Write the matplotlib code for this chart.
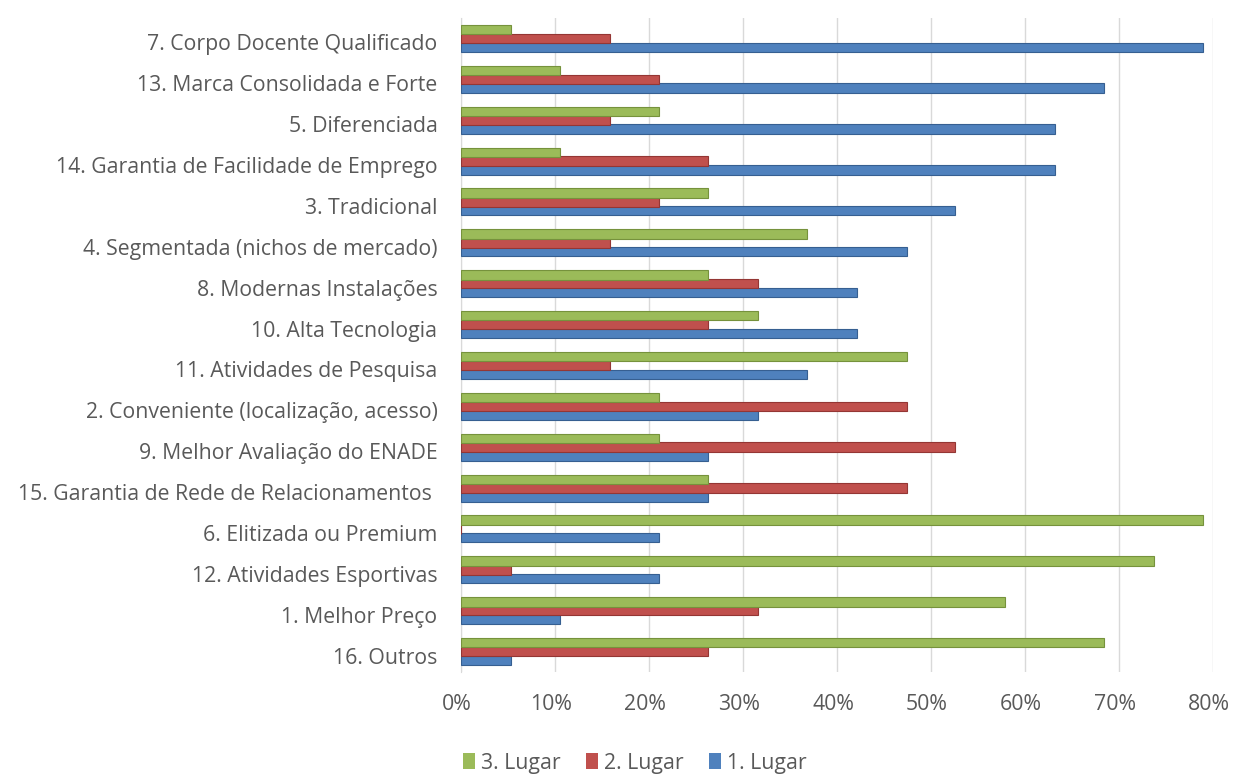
import matplotlib
matplotlib.use("Agg")
import matplotlib.pyplot as plt
from matplotlib.ticker import FuncFormatter
from matplotlib.transforms import ScaledTranslation
from matplotlib.patches import Patch

# Attributes (top to bottom) and share of respondents per ranking position (%)
categories = [
    "7. Corpo Docente Qualificado",
    "13. Marca Consolidada e Forte",
    "5. Diferenciada",
    "14. Garantia de Facilidade de Emprego",
    "3. Tradicional",
    "4. Segmentada (nichos de mercado)",
    "8. Modernas Instalações",
    "10. Alta Tecnologia",
    "11. Atividades de Pesquisa",
    "2. Conveniente (localização, acesso)",
    "9. Melhor Avaliação do ENADE",
    "15. Garantia de Rede de Relacionamentos ",
    "6. Elitizada ou Premium",
    "12. Atividades Esportivas",
    "1. Melhor Preço",
    "16. Outros",
]
terceiro = [5.3, 10.5, 21.1, 10.5, 26.3, 36.8, 26.3, 31.6, 47.4, 21.1, 21.1, 26.3, 78.9, 73.7, 57.9, 68.4]
segundo  = [15.8, 21.1, 15.8, 26.3, 21.1, 15.8, 31.6, 26.3, 15.8, 47.4, 52.6, 47.4, 0.0, 5.3, 31.6, 26.3]
primeiro = [78.9, 68.4, 63.2, 63.2, 52.6, 47.4, 42.1, 42.1, 36.8, 31.6, 26.3, 26.3, 21.1, 21.1, 10.5, 5.3]
series_names = ["3. Lugar", "2. Lugar", "1. Lugar"]
x_ticks = [0, 10, 20, 30, 40, 50, 60, 70, 80]

colors = ["#9BBB59", "#C0504D", "#4F81BD"]
edges = ["#76923C", "#943634", "#365F91"]
text_color = "#595959"
font = ["Open Sans", "DejaVu Sans"]
fsize = 15.3

W, H = 1239, 776
fig = plt.figure(figsize=(W / 100, H / 100), dpi=100)
ax = fig.add_axes([461 / W, 1 - 672 / H, (1213 - 461) / W, (672 - 18) / H])

n = len(categories)
pos = list(range(n))
step = 0.215
bh = 0.23
for k, (vals, c, e) in enumerate(zip([terceiro, segundo, primeiro], colors, edges)):
    off = (k - 1) * step
    ax.barh([p + off for p in pos], vals, height=bh, color=c, edgecolor=e,
            linewidth=0.8, zorder=4 - k * 0.1)

ax.set_xlim(0, 80)
ax.set_ylim(n - 0.5, -0.5)
ax.set_xticks(x_ticks)
ax.xaxis.set_major_formatter(FuncFormatter(lambda v, _: f"{v:.0f}%"))
ax.set_yticks(pos)
ax.set_yticklabels(categories)

ax.grid(axis="x", color="#D9D9D9", linewidth=1.0, zorder=0)
ax.set_axisbelow(True)
for s in ["top", "right", "bottom"]:
    ax.spines[s].set_visible(False)
ax.spines["left"].set_color("#D9D9D9")
ax.tick_params(axis="both", length=0, colors=text_color, labelsize=fsize)
ax.tick_params(axis="y", pad=22)
ax.tick_params(axis="x", pad=16)

for lab in ax.get_yticklabels():
    lab.set_fontfamily(font)
    lab.set_color(text_color)
    lab.set_transform(lab.get_transform() + ScaledTranslation(7 / 100, -4 / 100, fig.dpi_scale_trans))
for lab in ax.get_xticklabels():
    lab.set_fontfamily(font)
    lab.set_color(text_color)
    lab.set_transform(lab.get_transform() + ScaledTranslation(-4 / 100, 0, fig.dpi_scale_trans))

handles = [Patch(facecolor=c, edgecolor="none") for c in colors]
fig.legend(handles, series_names, loc="center", bbox_to_anchor=(635 / W, 1 - 763 / H),
           ncol=3, frameon=False, prop={"family": font, "size": fsize},
           labelcolor=text_color, handlelength=0.55, handleheight=0.8,
           handletextpad=0.3, columnspacing=1.2)

fig.savefig("out.png", dpi=100, facecolor="white")
